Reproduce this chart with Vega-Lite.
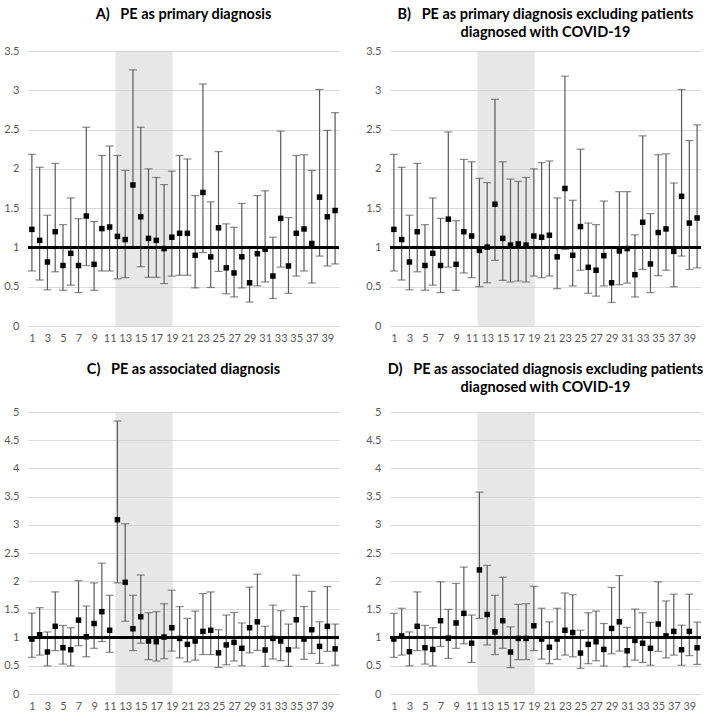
{
  "$schema": "https://vega.github.io/schema/vega-lite/v6.json",
  "padding": {"left": 3, "top": 6, "right": 5, "bottom": 0},
  "config": {
    "view": {"stroke": null},
    "font": "Lato",
    "title": {"font": "Lato", "fontSize": 14.5, "fontWeight": "bold", "color": "#000000", "lineHeight": 18, "anchor": "middle"},
    "axis": {"labelFont": "Lato", "labelFontSize": 11, "labelColor": "#595959", "domain": false, "ticks": false, "title": null, "labelOverlap": false},
    "axisX": {"grid": false, "labelPadding": 6},
    "axisY": {"grid": true, "gridColor": "#d9d9d9", "labelPadding": 9, "format": "~g"},
    "concat": {"spacing": {"row": 18, "column": 25}}
  },
  "datasets": {
    "shade": [{"start": 11.75, "end": 19.1}],
    "A": [
      {"week": 1, "est": 1.23, "lo": 0.70, "hi": 2.185},
      {"week": 2, "est": 1.09, "lo": 0.585, "hi": 2.02},
      {"week": 3, "est": 0.815, "lo": 0.46, "hi": 1.41},
      {"week": 4, "est": 1.20, "lo": 0.69, "hi": 2.07},
      {"week": 5, "est": 0.77, "lo": 0.455, "hi": 1.29},
      {"week": 6, "est": 0.925, "lo": 0.52, "hi": 1.63},
      {"week": 7, "est": 0.77, "lo": 0.425, "hi": 1.366},
      {"week": 8, "est": 1.40, "lo": 0.77, "hi": 2.53},
      {"week": 9, "est": 0.785, "lo": 0.455, "hi": 1.33},
      {"week": 10, "est": 1.24, "lo": 0.70, "hi": 2.17},
      {"week": 11, "est": 1.26, "lo": 0.70, "hi": 2.29},
      {"week": 12, "est": 1.14, "lo": 0.60, "hi": 2.17},
      {"week": 13, "est": 1.10, "lo": 0.615, "hi": 1.98},
      {"week": 14, "est": 1.795, "lo": 1.0, "hi": 3.26},
      {"week": 15, "est": 1.39, "lo": 0.755, "hi": 2.53},
      {"week": 16, "est": 1.115, "lo": 0.62, "hi": 2.0},
      {"week": 17, "est": 1.09, "lo": 0.62, "hi": 1.89},
      {"week": 18, "est": 0.985, "lo": 0.54, "hi": 1.80},
      {"week": 19, "est": 1.13, "lo": 0.635, "hi": 1.97},
      {"week": 20, "est": 1.18, "lo": 0.645, "hi": 2.17},
      {"week": 21, "est": 1.18, "lo": 0.645, "hi": 2.125},
      {"week": 22, "est": 0.90, "lo": 0.485, "hi": 1.66},
      {"week": 23, "est": 1.70, "lo": 0.935, "hi": 3.08},
      {"week": 24, "est": 0.88, "lo": 0.49, "hi": 1.58},
      {"week": 25, "est": 1.25, "lo": 0.695, "hi": 2.22},
      {"week": 26, "est": 0.74, "lo": 0.41, "hi": 1.30},
      {"week": 27, "est": 0.675, "lo": 0.37, "hi": 1.256},
      {"week": 28, "est": 0.88, "lo": 0.485, "hi": 1.56},
      {"week": 29, "est": 0.55, "lo": 0.305, "hi": 1.0},
      {"week": 30, "est": 0.92, "lo": 0.51, "hi": 1.66},
      {"week": 31, "est": 0.976, "lo": 0.56, "hi": 1.72},
      {"week": 32, "est": 0.636, "lo": 0.35, "hi": 1.13},
      {"week": 33, "est": 1.37, "lo": 0.75, "hi": 2.48},
      {"week": 34, "est": 0.764, "lo": 0.416, "hi": 1.38},
      {"week": 35, "est": 1.18, "lo": 0.636, "hi": 2.17},
      {"week": 36, "est": 1.235, "lo": 0.70, "hi": 2.18},
      {"week": 37, "est": 1.05, "lo": 0.547, "hi": 1.98},
      {"week": 38, "est": 1.64, "lo": 0.89, "hi": 3.01},
      {"week": 39, "est": 1.39, "lo": 0.764, "hi": 2.49},
      {"week": 40, "est": 1.47, "lo": 0.79, "hi": 2.715}
    ],
    "B": [
      {"week": 1, "est": 1.23, "lo": 0.70, "hi": 2.185},
      {"week": 2, "est": 1.10, "lo": 0.585, "hi": 2.02},
      {"week": 3, "est": 0.815, "lo": 0.46, "hi": 1.41},
      {"week": 4, "est": 1.20, "lo": 0.69, "hi": 2.07},
      {"week": 5, "est": 0.77, "lo": 0.455, "hi": 1.29},
      {"week": 6, "est": 0.925, "lo": 0.52, "hi": 1.63},
      {"week": 7, "est": 0.77, "lo": 0.425, "hi": 1.37},
      {"week": 8, "est": 1.36, "lo": 0.75, "hi": 2.47},
      {"week": 9, "est": 0.785, "lo": 0.455, "hi": 1.34},
      {"week": 10, "est": 1.20, "lo": 0.675, "hi": 2.12},
      {"week": 11, "est": 1.145, "lo": 0.615, "hi": 2.09},
      {"week": 12, "est": 0.963, "lo": 0.50, "hi": 1.88},
      {"week": 13, "est": 1.005, "lo": 0.55, "hi": 1.825},
      {"week": 14, "est": 1.55, "lo": 0.835, "hi": 2.885},
      {"week": 15, "est": 1.115, "lo": 0.58, "hi": 2.09},
      {"week": 16, "est": 1.03, "lo": 0.56, "hi": 1.87},
      {"week": 17, "est": 1.045, "lo": 0.573, "hi": 1.84},
      {"week": 18, "est": 1.03, "lo": 0.56, "hi": 1.89},
      {"week": 19, "est": 1.145, "lo": 0.636, "hi": 2.0},
      {"week": 20, "est": 1.13, "lo": 0.615, "hi": 2.08},
      {"week": 21, "est": 1.155, "lo": 0.636, "hi": 2.10},
      {"week": 22, "est": 0.88, "lo": 0.475, "hi": 1.63},
      {"week": 23, "est": 1.75, "lo": 0.975, "hi": 3.18},
      {"week": 24, "est": 0.90, "lo": 0.51, "hi": 1.60},
      {"week": 25, "est": 1.265, "lo": 0.71, "hi": 2.25},
      {"week": 26, "est": 0.747, "lo": 0.416, "hi": 1.31},
      {"week": 27, "est": 0.71, "lo": 0.38, "hi": 1.29},
      {"week": 28, "est": 0.895, "lo": 0.51, "hi": 1.59},
      {"week": 29, "est": 0.55, "lo": 0.30, "hi": 1.0},
      {"week": 30, "est": 0.955, "lo": 0.526, "hi": 1.71},
      {"week": 31, "est": 0.985, "lo": 0.547, "hi": 1.71},
      {"week": 32, "est": 0.653, "lo": 0.37, "hi": 1.16},
      {"week": 33, "est": 1.32, "lo": 0.72, "hi": 2.42},
      {"week": 34, "est": 0.79, "lo": 0.425, "hi": 1.43},
      {"week": 35, "est": 1.19, "lo": 0.64, "hi": 2.18},
      {"week": 36, "est": 1.235, "lo": 0.71, "hi": 2.19},
      {"week": 37, "est": 0.95, "lo": 0.50, "hi": 1.82},
      {"week": 38, "est": 1.65, "lo": 0.89, "hi": 3.01},
      {"week": 39, "est": 1.31, "lo": 0.72, "hi": 2.36},
      {"week": 40, "est": 1.375, "lo": 0.74, "hi": 2.56}
    ],
    "C": [
      {"week": 1, "est": 0.975, "lo": 0.65, "hi": 1.435},
      {"week": 2, "est": 1.05, "lo": 0.69, "hi": 1.53},
      {"week": 3, "est": 0.745, "lo": 0.50, "hi": 1.10},
      {"week": 4, "est": 1.20, "lo": 0.77, "hi": 1.81},
      {"week": 5, "est": 0.82, "lo": 0.53, "hi": 1.216},
      {"week": 6, "est": 0.785, "lo": 0.50, "hi": 1.175},
      {"week": 7, "est": 1.31, "lo": 0.856, "hi": 2.01},
      {"week": 8, "est": 1.015, "lo": 0.66, "hi": 1.56},
      {"week": 9, "est": 1.25, "lo": 0.81, "hi": 1.97},
      {"week": 10, "est": 1.46, "lo": 0.93, "hi": 2.32},
      {"week": 11, "est": 1.13, "lo": 0.74, "hi": 1.75},
      {"week": 12, "est": 3.09, "lo": 1.97, "hi": 4.84},
      {"week": 13, "est": 1.98, "lo": 1.29, "hi": 3.02},
      {"week": 14, "est": 1.157, "lo": 0.77, "hi": 1.75},
      {"week": 15, "est": 1.37, "lo": 0.90, "hi": 2.11},
      {"week": 16, "est": 0.94, "lo": 0.61, "hi": 1.44},
      {"week": 17, "est": 0.927, "lo": 0.585, "hi": 1.46},
      {"week": 18, "est": 1.01, "lo": 0.626, "hi": 1.60},
      {"week": 19, "est": 1.175, "lo": 0.76, "hi": 1.84},
      {"week": 20, "est": 0.985, "lo": 0.64, "hi": 1.55},
      {"week": 21, "est": 0.88, "lo": 0.57, "hi": 1.34},
      {"week": 22, "est": 0.94, "lo": 0.60, "hi": 1.47},
      {"week": 23, "est": 1.11, "lo": 0.70, "hi": 1.78},
      {"week": 24, "est": 1.13, "lo": 0.70, "hi": 1.81},
      {"week": 25, "est": 0.73, "lo": 0.47, "hi": 1.14},
      {"week": 26, "est": 0.87, "lo": 0.52, "hi": 1.40},
      {"week": 27, "est": 0.915, "lo": 0.585, "hi": 1.446},
      {"week": 28, "est": 0.81, "lo": 0.50, "hi": 1.26},
      {"week": 29, "est": 1.175, "lo": 0.73, "hi": 1.895},
      {"week": 30, "est": 1.28, "lo": 0.773, "hi": 2.125},
      {"week": 31, "est": 0.78, "lo": 0.49, "hi": 1.20},
      {"week": 32, "est": 0.985, "lo": 0.62, "hi": 1.576},
      {"week": 33, "est": 0.94, "lo": 0.59, "hi": 1.476},
      {"week": 34, "est": 0.785, "lo": 0.49, "hi": 1.24},
      {"week": 35, "est": 1.316, "lo": 0.815, "hi": 2.107},
      {"week": 36, "est": 0.974, "lo": 0.614, "hi": 1.55},
      {"week": 37, "est": 1.14, "lo": 0.72, "hi": 1.82},
      {"week": 38, "est": 0.844, "lo": 0.543, "hi": 1.28},
      {"week": 39, "est": 1.20, "lo": 0.756, "hi": 1.907},
      {"week": 40, "est": 0.80, "lo": 0.51, "hi": 1.24}
    ],
    "D": [
      {"week": 1, "est": 0.975, "lo": 0.65, "hi": 1.43},
      {"week": 2, "est": 1.03, "lo": 0.69, "hi": 1.52},
      {"week": 3, "est": 0.75, "lo": 0.50, "hi": 1.10},
      {"week": 4, "est": 1.20, "lo": 0.77, "hi": 1.81},
      {"week": 5, "est": 0.82, "lo": 0.53, "hi": 1.216},
      {"week": 6, "est": 0.79, "lo": 0.50, "hi": 1.175},
      {"week": 7, "est": 1.30, "lo": 0.845, "hi": 1.99},
      {"week": 8, "est": 0.99, "lo": 0.63, "hi": 1.50},
      {"week": 9, "est": 1.26, "lo": 0.81, "hi": 1.96},
      {"week": 10, "est": 1.43, "lo": 0.89, "hi": 2.25},
      {"week": 11, "est": 0.90, "lo": 0.56, "hi": 1.40},
      {"week": 12, "est": 2.20, "lo": 1.34, "hi": 3.58},
      {"week": 13, "est": 1.41, "lo": 0.87, "hi": 2.28},
      {"week": 14, "est": 1.10, "lo": 0.70, "hi": 1.75},
      {"week": 15, "est": 1.30, "lo": 0.81, "hi": 2.07},
      {"week": 16, "est": 0.744, "lo": 0.466, "hi": 1.19},
      {"week": 17, "est": 0.985, "lo": 0.61, "hi": 1.59},
      {"week": 18, "est": 0.985, "lo": 0.61, "hi": 1.60},
      {"week": 19, "est": 1.21, "lo": 0.77, "hi": 1.91},
      {"week": 20, "est": 0.974, "lo": 0.62, "hi": 1.52},
      {"week": 21, "est": 0.83, "lo": 0.537, "hi": 1.28},
      {"week": 22, "est": 0.974, "lo": 0.614, "hi": 1.52},
      {"week": 23, "est": 1.13, "lo": 0.69, "hi": 1.79},
      {"week": 24, "est": 1.09, "lo": 0.66, "hi": 1.76},
      {"week": 25, "est": 0.726, "lo": 0.455, "hi": 1.13},
      {"week": 26, "est": 0.88, "lo": 0.537, "hi": 1.44},
      {"week": 27, "est": 0.927, "lo": 0.59, "hi": 1.47},
      {"week": 28, "est": 0.79, "lo": 0.496, "hi": 1.25},
      {"week": 29, "est": 1.163, "lo": 0.714, "hi": 1.89},
      {"week": 30, "est": 1.28, "lo": 0.76, "hi": 2.10},
      {"week": 31, "est": 0.767, "lo": 0.484, "hi": 1.18},
      {"week": 32, "est": 0.95, "lo": 0.60, "hi": 1.505},
      {"week": 33, "est": 0.90, "lo": 0.56, "hi": 1.44},
      {"week": 34, "est": 0.81, "lo": 0.51, "hi": 1.27},
      {"week": 35, "est": 1.24, "lo": 0.756, "hi": 1.99},
      {"week": 36, "est": 1.03, "lo": 0.64, "hi": 1.65},
      {"week": 37, "est": 1.11, "lo": 0.69, "hi": 1.77},
      {"week": 38, "est": 0.785, "lo": 0.51, "hi": 1.22},
      {"week": 39, "est": 1.11, "lo": 0.68, "hi": 1.77},
      {"week": 40, "est": 0.82, "lo": 0.525, "hi": 1.275}
    ]
  },
  "columns": 2,
  "concat": [
    {
      "width": 311, "height": 275,
      "title": {"text": "A)\u00a0\u00a0\u00a0PE as primary diagnosis", "offset": 23},
      "data": {"name": "A"},
      "layer": [
        {"data": {"name": "shade"}, "mark": {"type": "rect", "color": "#cfcfcf", "opacity": 0.5},
         "encoding": {"x": {"field": "start", "type": "quantitative", "scale": {"domain": [0.5, 40.5], "nice": false, "zero": false}, "axis": {"values": [1,3,5,7,9,11,13,15,17,19,21,23,25,27,29,31,33,35,37,39]}}, "x2": {"field": "end"}}},
        {"mark": {"type": "rule", "color": "#595959", "strokeWidth": 1.2},
         "encoding": {"x": {"field": "week", "type": "quantitative", "axis": {"values": [1,3,5,7,9,11,13,15,17,19,21,23,25,27,29,31,33,35,37,39]}},
           "y": {"field": "lo", "type": "quantitative", "scale": {"domain": [0, 3.5], "nice": false}, "axis": {"values": [0,0.5,1,1.5,2,2.5,3,3.5]}},
           "y2": {"field": "hi"}}},
        {"mark": {"type": "tick", "orient": "horizontal", "size": 8, "thickness": 1.2, "color": "#595959"},
         "encoding": {"x": {"field": "week", "type": "quantitative", "axis": {"values": [1,3,5,7,9,11,13,15,17,19,21,23,25,27,29,31,33,35,37,39]}}, "y": {"field": "hi", "type": "quantitative", "axis": {"values": [0,0.5,1,1.5,2,2.5,3,3.5]}}}},
        {"mark": {"type": "tick", "orient": "horizontal", "size": 8, "thickness": 1.2, "color": "#595959"},
         "encoding": {"x": {"field": "week", "type": "quantitative", "axis": {"values": [1,3,5,7,9,11,13,15,17,19,21,23,25,27,29,31,33,35,37,39]}}, "y": {"field": "lo", "type": "quantitative", "axis": {"values": [0,0.5,1,1.5,2,2.5,3,3.5]}}}},
        {"mark": {"type": "rule", "color": "#000000", "strokeWidth": 2}, "encoding": {"y": {"datum": 1, "axis": {"values": [0,0.5,1,1.5,2,2.5,3,3.5]}}}},
        {"mark": {"type": "square", "size": 30, "color": "#000000", "opacity": 1},
         "encoding": {"x": {"field": "week", "type": "quantitative", "axis": {"values": [1,3,5,7,9,11,13,15,17,19,21,23,25,27,29,31,33,35,37,39]}}, "y": {"field": "est", "type": "quantitative", "axis": {"values": [0,0.5,1,1.5,2,2.5,3,3.5]}}}}
      ]
    },
    {
      "width": 311, "height": 275,
      "title": {"text": ["B)\u00a0\u00a0\u00a0PE as primary diagnosis excluding patients", "diagnosed with COVID-19"], "offset": 5},
      "data": {"name": "B"},
      "layer": [
        {"data": {"name": "shade"}, "mark": {"type": "rect", "color": "#cfcfcf", "opacity": 0.5},
         "encoding": {"x": {"field": "start", "type": "quantitative", "scale": {"domain": [0.5, 40.5], "nice": false, "zero": false}, "axis": {"values": [1,3,5,7,9,11,13,15,17,19,21,23,25,27,29,31,33,35,37,39]}}, "x2": {"field": "end"}}},
        {"mark": {"type": "rule", "color": "#595959", "strokeWidth": 1.2},
         "encoding": {"x": {"field": "week", "type": "quantitative", "axis": {"values": [1,3,5,7,9,11,13,15,17,19,21,23,25,27,29,31,33,35,37,39]}},
           "y": {"field": "lo", "type": "quantitative", "scale": {"domain": [0, 3.5], "nice": false}, "axis": {"values": [0,0.5,1,1.5,2,2.5,3,3.5]}},
           "y2": {"field": "hi"}}},
        {"mark": {"type": "tick", "orient": "horizontal", "size": 8, "thickness": 1.2, "color": "#595959"},
         "encoding": {"x": {"field": "week", "type": "quantitative", "axis": {"values": [1,3,5,7,9,11,13,15,17,19,21,23,25,27,29,31,33,35,37,39]}}, "y": {"field": "hi", "type": "quantitative", "axis": {"values": [0,0.5,1,1.5,2,2.5,3,3.5]}}}},
        {"mark": {"type": "tick", "orient": "horizontal", "size": 8, "thickness": 1.2, "color": "#595959"},
         "encoding": {"x": {"field": "week", "type": "quantitative", "axis": {"values": [1,3,5,7,9,11,13,15,17,19,21,23,25,27,29,31,33,35,37,39]}}, "y": {"field": "lo", "type": "quantitative", "axis": {"values": [0,0.5,1,1.5,2,2.5,3,3.5]}}}},
        {"mark": {"type": "rule", "color": "#000000", "strokeWidth": 2}, "encoding": {"y": {"datum": 1, "axis": {"values": [0,0.5,1,1.5,2,2.5,3,3.5]}}}},
        {"mark": {"type": "square", "size": 30, "color": "#000000", "opacity": 1},
         "encoding": {"x": {"field": "week", "type": "quantitative", "axis": {"values": [1,3,5,7,9,11,13,15,17,19,21,23,25,27,29,31,33,35,37,39]}}, "y": {"field": "est", "type": "quantitative", "axis": {"values": [0,0.5,1,1.5,2,2.5,3,3.5]}}}}
      ]
    },
    {
      "width": 311, "height": 282,
      "title": {"text": "C)\u00a0\u00a0\u00a0PE as associated diagnosis", "offset": 29},
      "data": {"name": "C"},
      "layer": [
        {"data": {"name": "shade"}, "mark": {"type": "rect", "color": "#cfcfcf", "opacity": 0.5},
         "encoding": {"x": {"field": "start", "type": "quantitative", "scale": {"domain": [0.5, 40.5], "nice": false, "zero": false}, "axis": {"values": [1,3,5,7,9,11,13,15,17,19,21,23,25,27,29,31,33,35,37,39]}}, "x2": {"field": "end"}}},
        {"mark": {"type": "rule", "color": "#595959", "strokeWidth": 1.2},
         "encoding": {"x": {"field": "week", "type": "quantitative", "axis": {"values": [1,3,5,7,9,11,13,15,17,19,21,23,25,27,29,31,33,35,37,39]}},
           "y": {"field": "lo", "type": "quantitative", "scale": {"domain": [0, 5], "nice": false}, "axis": {"values": [0,0.5,1,1.5,2,2.5,3,3.5,4,4.5,5]}},
           "y2": {"field": "hi"}}},
        {"mark": {"type": "tick", "orient": "horizontal", "size": 8, "thickness": 1.2, "color": "#595959"},
         "encoding": {"x": {"field": "week", "type": "quantitative", "axis": {"values": [1,3,5,7,9,11,13,15,17,19,21,23,25,27,29,31,33,35,37,39]}}, "y": {"field": "hi", "type": "quantitative", "axis": {"values": [0,0.5,1,1.5,2,2.5,3,3.5,4,4.5,5]}}}},
        {"mark": {"type": "tick", "orient": "horizontal", "size": 8, "thickness": 1.2, "color": "#595959"},
         "encoding": {"x": {"field": "week", "type": "quantitative", "axis": {"values": [1,3,5,7,9,11,13,15,17,19,21,23,25,27,29,31,33,35,37,39]}}, "y": {"field": "lo", "type": "quantitative", "axis": {"values": [0,0.5,1,1.5,2,2.5,3,3.5,4,4.5,5]}}}},
        {"mark": {"type": "rule", "color": "#000000", "strokeWidth": 2}, "encoding": {"y": {"datum": 1, "axis": {"values": [0,0.5,1,1.5,2,2.5,3,3.5,4,4.5,5]}}}},
        {"mark": {"type": "square", "size": 30, "color": "#000000", "opacity": 1},
         "encoding": {"x": {"field": "week", "type": "quantitative", "axis": {"values": [1,3,5,7,9,11,13,15,17,19,21,23,25,27,29,31,33,35,37,39]}}, "y": {"field": "est", "type": "quantitative", "axis": {"values": [0,0.5,1,1.5,2,2.5,3,3.5,4,4.5,5]}}}}
      ]
    },
    {
      "width": 311, "height": 282,
      "title": {"text": ["D)\u00a0\u00a0\u00a0PE as associated diagnosis excluding patients", "diagnosed with COVID-19"], "offset": 11},
      "data": {"name": "D"},
      "layer": [
        {"data": {"name": "shade"}, "mark": {"type": "rect", "color": "#cfcfcf", "opacity": 0.5},
         "encoding": {"x": {"field": "start", "type": "quantitative", "scale": {"domain": [0.5, 40.5], "nice": false, "zero": false}, "axis": {"values": [1,3,5,7,9,11,13,15,17,19,21,23,25,27,29,31,33,35,37,39]}}, "x2": {"field": "end"}}},
        {"mark": {"type": "rule", "color": "#595959", "strokeWidth": 1.2},
         "encoding": {"x": {"field": "week", "type": "quantitative", "axis": {"values": [1,3,5,7,9,11,13,15,17,19,21,23,25,27,29,31,33,35,37,39]}},
           "y": {"field": "lo", "type": "quantitative", "scale": {"domain": [0, 5], "nice": false}, "axis": {"values": [0,0.5,1,1.5,2,2.5,3,3.5,4,4.5,5]}},
           "y2": {"field": "hi"}}},
        {"mark": {"type": "tick", "orient": "horizontal", "size": 8, "thickness": 1.2, "color": "#595959"},
         "encoding": {"x": {"field": "week", "type": "quantitative", "axis": {"values": [1,3,5,7,9,11,13,15,17,19,21,23,25,27,29,31,33,35,37,39]}}, "y": {"field": "hi", "type": "quantitative", "axis": {"values": [0,0.5,1,1.5,2,2.5,3,3.5,4,4.5,5]}}}},
        {"mark": {"type": "tick", "orient": "horizontal", "size": 8, "thickness": 1.2, "color": "#595959"},
         "encoding": {"x": {"field": "week", "type": "quantitative", "axis": {"values": [1,3,5,7,9,11,13,15,17,19,21,23,25,27,29,31,33,35,37,39]}}, "y": {"field": "lo", "type": "quantitative", "axis": {"values": [0,0.5,1,1.5,2,2.5,3,3.5,4,4.5,5]}}}},
        {"mark": {"type": "rule", "color": "#000000", "strokeWidth": 2}, "encoding": {"y": {"datum": 1, "axis": {"values": [0,0.5,1,1.5,2,2.5,3,3.5,4,4.5,5]}}}},
        {"mark": {"type": "square", "size": 30, "color": "#000000", "opacity": 1},
         "encoding": {"x": {"field": "week", "type": "quantitative", "axis": {"values": [1,3,5,7,9,11,13,15,17,19,21,23,25,27,29,31,33,35,37,39]}}, "y": {"field": "est", "type": "quantitative", "axis": {"values": [0,0.5,1,1.5,2,2.5,3,3.5,4,4.5,5]}}}}
      ]
    }
  ]
}
